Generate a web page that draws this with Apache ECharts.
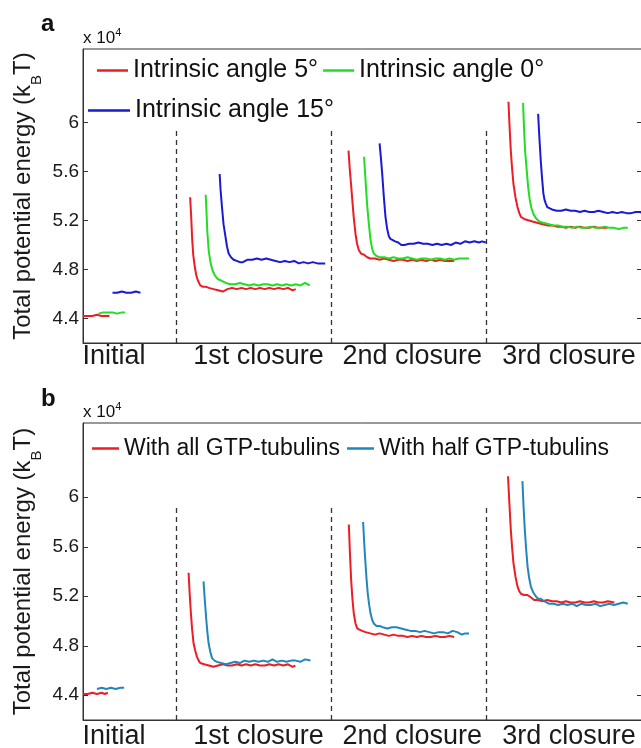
<!DOCTYPE html>
<html>
<head>
<meta charset="utf-8">
<script src="https://cdn.jsdelivr.net/npm/echarts@6/dist/echarts.min.js"></script>
<style>
  html, body { margin: 0; padding: 0; background: #fff; }
  #chart { width: 641px; height: 748px; }
</style>
</head>
<body>
<div id="chart"></div>
<script>
// x: simulation progress, sections split at 60 / 160 / 260; y: energy (x 10^4 kBT)
var sectionLines = [60, 160, 260];
var sectionLineTop = 5.93;
var xLabelPos = [20, 113, 212, 313];
var xLabelNames = ['Initial', '1st closure', '2nd closure', '3rd closure'];
var yTicks = [4.4, 4.8, 5.2, 5.6, 6];

// ---- panel a ----
var a5Init = [[0,4.42],[3,4.42],[6,4.42],[9,4.43],[12,4.42],[15,4.42],[17,4.42]];
var a0Init = [[10,4.44],[13,4.45],[16,4.45],[19,4.45],[22,4.44],[25,4.45],[27,4.45]];
var a15Init = [[19,4.61],[22,4.61],[25,4.62],[28,4.61],[31,4.61],[34,4.62],[37,4.61]];

var a5C1 = [[69,5.39],[69.6,5.25],[70.3,5.05],[71,4.92],[72,4.82],[73,4.75],[74,4.71],[75.5,4.67],[77,4.66],[79,4.66],[81,4.65],[84,4.64],[87,4.63],[90,4.62],[93,4.64],[96,4.65],[99,4.64],[102,4.65],[105,4.64],[108,4.65],[111,4.64],[114,4.65],[117,4.64],[120,4.65],[123,4.64],[126,4.65],[129,4.64],[132,4.65],[135,4.63],[137,4.64]];
var a0C1 = [[79,5.41],[79.5,5.28],[80.1,5.10],[81,4.95],[82.2,4.85],[83.5,4.79],[85,4.75],[87,4.72],[89,4.71],[92,4.69],[95,4.68],[98,4.68],[101,4.69],[104,4.68],[107,4.67],[110,4.68],[113,4.67],[116,4.68],[119,4.68],[122,4.67],[125,4.68],[128,4.67],[131,4.68],[134,4.67],[137,4.68],[140,4.67],[143,4.69],[146,4.67]];
var a15C1 = [[88,5.58],[88.6,5.45],[89.5,5.31],[90.5,5.17],[91.6,5.08],[92.7,4.99],[93.8,4.93],[95.3,4.90],[97,4.88],[99,4.87],[101,4.86],[103,4.86],[106,4.88],[109,4.88],[112,4.89],[115,4.88],[118,4.89],[121,4.88],[124,4.87],[127,4.86],[130,4.87],[133,4.86],[136,4.87],[139,4.85],[142,4.86],[145,4.85],[148,4.86],[151,4.85],[154,4.85],[156,4.85]];

var a5C2 = [[171,5.77],[171.8,5.62],[172.6,5.50],[173.4,5.37],[174.4,5.22],[175.5,5.09],[176.5,5.01],[177.6,4.96],[179,4.93],[181,4.92],[183,4.90],[185,4.89],[188,4.89],[191,4.88],[194,4.89],[197,4.88],[200,4.87],[203,4.88],[206,4.88],[209,4.87],[212,4.88],[215,4.87],[218,4.88],[221,4.87],[224,4.88],[227,4.87],[230,4.88],[233,4.87],[236,4.87],[239,4.87]];
var a0C2 = [[181,5.72],[181.7,5.58],[182.4,5.44],[183.1,5.31],[184.1,5.17],[185.2,5.04],[186.2,4.97],[187.3,4.93],[189,4.91],[191,4.90],[194,4.90],[197,4.89],[200,4.90],[203,4.89],[206,4.89],[209,4.90],[212,4.89],[215,4.88],[218,4.89],[221,4.89],[224,4.88],[227,4.89],[230,4.89],[233,4.88],[236,4.89],[239,4.88],[242,4.89],[245,4.89],[248.6,4.89]];
var a15C2 = [[191,5.83],[191.8,5.72],[192.7,5.58],[193.7,5.40],[194.8,5.23],[195.9,5.13],[197,5.07],[198,5.05],[199.1,5.04],[201,5.03],[203,5.02],[205,5.00],[207,5.00],[210,5.01],[213,5.01],[216,5.02],[219,5.01],[222,5.01],[225,5.00],[228,5.01],[231,5.00],[234,5.01],[237,5.00],[240,5.02],[243,5.01],[246,5.03],[249,5.02],[252,5.03],[255,5.02],[257,5.03],[259.4,5.02]];

var a5C3 = [[274,6.17],[274.7,5.97],[275.5,5.77],[276.3,5.63],[277.2,5.50],[278.5,5.39],[279.8,5.31],[281,5.26],[282,5.23],[284.5,5.21],[287.3,5.20],[290,5.19],[293,5.18],[296,5.17],[299,5.16],[302,5.16],[305,5.15],[308,5.15],[311,5.14],[314,5.15],[317,5.14],[320,5.15],[323,5.14],[326,5.14],[329,5.15],[332,5.14],[335,5.14],[337.8,5.14]];
var a0C3 = [[283.4,6.16],[284,5.96],[284.7,5.77],[285.7,5.62],[286.7,5.47],[287.7,5.37],[288.8,5.30],[290.2,5.25],[291.6,5.22],[294,5.19],[297,5.18],[300,5.17],[303,5.16],[306,5.16],[309,5.15],[312,5.15],[315,5.14],[318,5.15],[321,5.14],[324,5.14],[327,5.15],[330,5.14],[333,5.14],[336,5.15],[339,5.14],[342,5.14],[345,5.13],[348,5.14],[350.8,5.14]];
var a15C3 = [[293.1,6.07],[293.9,5.88],[294.8,5.69],[295.6,5.55],[296.5,5.42],[297.2,5.37],[298,5.34],[299,5.31],[300.2,5.30],[302,5.29],[305,5.28],[308,5.28],[311,5.29],[314,5.28],[317,5.28],[320,5.27],[323,5.28],[326,5.27],[329,5.27],[332,5.28],[335,5.27],[338,5.26],[341,5.27],[344,5.26],[347,5.27],[350,5.26],[353,5.26],[356,5.27],[359,5.27],[360,5.26]];

// ---- panel b ----
var bAllInit = [[0,4.41],[3,4.41],[6,4.42],[9,4.41],[12,4.42],[14,4.41],[16,4.42]];
var bHalfInit = [[9,4.45],[12,4.46],[15,4.45],[18,4.46],[21,4.45],[24,4.46],[26.5,4.46]];

var bAllC1 = [[68,5.39],[68.7,5.22],[69.5,5.06],[70.3,4.93],[71.2,4.82],[72.3,4.76],[73.4,4.71],[74.5,4.68],[75.5,4.66],[78,4.65],[81,4.64],[84,4.63],[87,4.64],[90,4.65],[93,4.64],[96,4.64],[99,4.65],[102,4.64],[105,4.65],[108,4.64],[111,4.65],[114,4.64],[117,4.64],[120,4.65],[123,4.64],[126,4.65],[129,4.64],[132,4.65],[135,4.63],[136.8,4.64]];
var bHalfC1 = [[77.6,5.32],[78.5,5.16],[79.4,5.01],[80.1,4.91],[80.9,4.82],[82,4.75],[83.1,4.70],[84.7,4.68],[86.3,4.67],[89,4.66],[92,4.65],[95,4.66],[98,4.67],[101,4.66],[104,4.68],[107,4.67],[110,4.68],[113,4.67],[116,4.68],[119,4.67],[122,4.69],[125,4.67],[128,4.68],[131,4.67],[134,4.68],[137,4.68],[140,4.67],[143,4.69],[146.5,4.68]];

var bAllC2 = [[171.2,5.78],[171.9,5.55],[172.7,5.33],[173.5,5.18],[174.4,5.06],[175.5,4.98],[176.6,4.94],[178,4.93],[179.8,4.92],[182,4.91],[185,4.90],[188,4.89],[191,4.90],[194,4.89],[197,4.88],[200,4.89],[203,4.88],[206,4.88],[209,4.87],[212,4.88],[215,4.87],[218,4.88],[221,4.87],[224,4.87],[227,4.88],[230,4.87],[233,4.87],[236,4.88],[239,4.87]];
var bHalfC2 = [[180.4,5.80],[181.1,5.63],[181.9,5.47],[182.6,5.34],[183.4,5.22],[184.3,5.13],[185.2,5.06],[186.2,5.01],[187.3,4.98],[189,4.96],[191,4.96],[193,4.95],[196,4.94],[199,4.95],[202,4.95],[205,4.94],[208,4.93],[211,4.92],[214,4.92],[217,4.91],[220,4.92],[223,4.91],[226,4.90],[229,4.91],[232,4.91],[235,4.90],[238,4.92],[241,4.91],[244,4.89],[246,4.90],[248.6,4.90]];

var bAllC3 = [[273.7,6.17],[274.6,5.95],[275.5,5.74],[276.3,5.60],[277.2,5.47],[278.5,5.36],[279.8,5.28],[281,5.24],[282,5.22],[284,5.21],[286.3,5.21],[288.5,5.19],[290.5,5.17],[293,5.17],[296,5.16],[299,5.17],[302,5.16],[305,5.16],[308,5.15],[311,5.16],[314,5.15],[317,5.15],[320,5.16],[323,5.15],[326,5.15],[329,5.16],[332,5.15],[335,5.15],[338,5.16],[342.2,5.15]];
var bHalfC3 = [[283,6.13],[283.7,5.93],[284.5,5.74],[285.4,5.58],[286.3,5.44],[287.3,5.35],[288.4,5.28],[290,5.23],[291.6,5.20],[293,5.18],[294.8,5.18],[297,5.16],[300,5.14],[303,5.14],[306,5.13],[309,5.14],[312,5.13],[315,5.14],[318,5.12],[321,5.14],[324,5.13],[327,5.13],[330,5.14],[333,5.12],[336,5.13],[339,5.14],[342,5.13],[345,5.14],[348,5.15],[350.8,5.14]];

var FONT = 'Liberation Sans, Arial, sans-serif';
var chart = echarts.init(document.getElementById('chart'));

function lineSeries(name, color, data, gridIdx) {
  return {
    name: name, type: 'line', xAxisIndex: gridIdx, yAxisIndex: gridIdx * 2,
    data: data, showSymbol: false, symbol: 'none', smooth: false,
    color: color, lineStyle: { color: color, width: 2 },
    silent: true, z: 3
  };
}

function dividerSeries(gridIdx) {
  return {
    type: 'line', xAxisIndex: gridIdx, yAxisIndex: gridIdx * 2, data: [],
    markLine: {
      silent: true, symbol: 'none', label: { show: false },
      lineStyle: { color: '#333', width: 1.3, type: [5, 4] },
      data: sectionLines.map(function (x) {
        return [{ coord: [x, 4.2] }, { coord: [x, sectionLineTop] }];
      })
    }
  };
}

function xAxisOf(gridIdx, margin) {
  return {
    type: 'value', gridIndex: gridIdx, min: 0, max: 360,
    splitLine: { show: false }, axisTick: { show: false },
    axisLine: { lineStyle: { color: '#333', width: 1 } },
    axisLabel: {
      customValues: xLabelPos, margin: margin, color: '#1a1a1a',
      fontFamily: FONT, fontSize: 27,
      formatter: function (v) { return xLabelNames[xLabelPos.indexOf(v)]; }
    }
  };
}

function yAxesOf(gridIdx) {
  return [{
    type: 'value', gridIndex: gridIdx, min: 4.2, max: 6.6,
    splitLine: { show: false },
    axisLine: { show: true, lineStyle: { color: '#333', width: 1 } },
    axisTick: { show: true, inside: true, length: 5, customValues: yTicks, lineStyle: { color: '#333' } },
    axisLabel: {
      customValues: yTicks, margin: 4, color: '#1a1a1a', fontFamily: FONT, fontSize: 19,
      formatter: function (v) { return String(+v.toFixed(1)); }
    },
    name: 'Total potential energy (k{sub|B}T)',
    nameLocation: 'middle', nameGap: 40, nameMoveOverlap: false,
    nameTextStyle: {
      fontFamily: FONT, fontSize: 24, color: '#1a1a1a', lineHeight: 40,
      rich: { sub: { fontFamily: FONT, fontSize: 15, verticalAlign: 'top', padding: [26, 0, 0, 0] } }
    }
  }, {
    type: 'value', gridIndex: gridIdx, min: 4.2, max: 6.6, position: 'right',
    splitLine: { show: false }, axisLine: { show: false }, axisLabel: { show: false },
    axisTick: { show: true, inside: true, length: 5, customValues: yTicks, lineStyle: { color: '#333' } }
  }];
}

var RED = '#ee1c24', GREEN = '#22dd22', BLUE = '#1a1ad6', STEEL = '#2187bb';
var nA5 = 'Intrinsic angle 5\u00b0', nA0 = 'Intrinsic angle 0\u00b0', nA15 = 'Intrinsic angle 15\u00b0';
var nAll = 'With all GTP-tubulins', nHalf = 'With half GTP-tubulins';

var series = [dividerSeries(0), dividerSeries(1)];
[a5Init, a5C1, a5C2, a5C3].forEach(function (d) { series.push(lineSeries(nA5, RED, d, 0)); });
[a0Init, a0C1, a0C2, a0C3].forEach(function (d) { series.push(lineSeries(nA0, GREEN, d, 0)); });
[a15Init, a15C1, a15C2, a15C3].forEach(function (d) { series.push(lineSeries(nA15, BLUE, d, 0)); });
[bAllInit, bAllC1, bAllC2, bAllC3].forEach(function (d) { series.push(lineSeries(nAll, RED, d, 1)); });
[bHalfInit, bHalfC1, bHalfC2, bHalfC3].forEach(function (d) { series.push(lineSeries(nHalf, STEEL, d, 1)); });

function legendOf(names, left, top, width, fontSize, gap) {
  return {
    data: names, left: left, top: top, orient: 'horizontal',
    icon: 'rect', itemWidth: width, itemHeight: 2.5, itemGap: gap,
    selectedMode: false, padding: 0,
    textStyle: { fontFamily: FONT, fontSize: fontSize, color: '#111' }
  };
}

var supStyle = { fontFamily: FONT, fontSize: 11, verticalAlign: 'top', lineHeight: 22 };

chart.setOption({
  animation: false,
  backgroundColor: '#fff',
  grid: [
    { left: 83, top: 49, right: -1, height: 294, outerBoundsMode: 'none', containLabel: false, show: true, borderColor: '#333', borderWidth: 1, backgroundColor: 'transparent' },
    { left: 83, top: 423, right: -1, height: 297, outerBoundsMode: 'none', containLabel: false, show: true, borderColor: '#333', borderWidth: 1, backgroundColor: 'transparent' }
  ],
  xAxis: [xAxisOf(0, 0), xAxisOf(1, 3)],
  yAxis: yAxesOf(0).concat(yAxesOf(1)),
  legend: [
    legendOf([nA5, nA0], 97, 58, 31, 25, 5),
    legendOf([nA15], 88, 98, 42, 25, 5),
    legendOf([nAll, nHalf], 92, 437, 27, 23, 7)
  ],
  graphic: [
    { type: 'text', left: 41, top: 12, style: { text: 'a', font: 'bold 24px ' + FONT, fill: '#111' } },
    { type: 'text', left: 41, top: 387, style: { text: 'b', font: 'bold 24px ' + FONT, fill: '#111' } },
    { type: 'text', left: 83, top: 27, style: { text: 'x 10{sup|4}', font: '17px ' + FONT, fill: '#111', lineHeight: 22, rich: { sup: supStyle } } },
    { type: 'text', left: 83, top: 401, style: { text: 'x 10{sup|4}', font: '17px ' + FONT, fill: '#111', lineHeight: 22, rich: { sup: supStyle } } }
  ],
  series: series
});
</script>
</body>
</html>
